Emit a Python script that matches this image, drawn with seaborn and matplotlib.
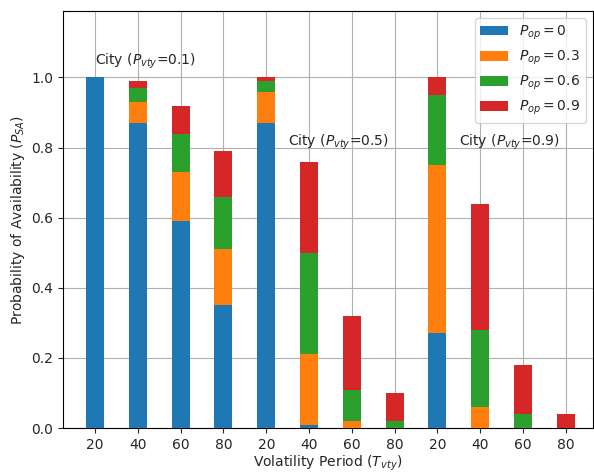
import matplotlib
matplotlib.use("Agg")
import matplotlib.pyplot as plt
import seaborn as sns
import pandas as pd

# Volatility periods for the three city scenarios (P_vty = 0.1, 0.5, 0.9)
periods = ["20", "40", "60", "80", "20", "40", "60", "80", "20", "40", "60", "80"]
scenario_labels = ["City ($P_{vty}$=0.1)", "City ($P_{vty}$=0.5)", "City ($P_{vty}$=0.9)"]

# Probability of availability for each operator probability P_op
p_op_0 = [1.00, 0.87, 0.59, 0.35, 0.87, 0.01, 0.00, 0.00, 0.27, 0.00, 0.00, 0.00]
p_op_03 = [1.00, 0.93, 0.73, 0.51, 0.96, 0.21, 0.02, 0.00, 0.75, 0.06, 0.00, 0.00]
p_op_06 = [1.00, 0.97, 0.84, 0.66, 0.99, 0.50, 0.11, 0.02, 0.95, 0.28, 0.04, 0.00]
p_op_09 = [1.00, 0.99, 0.92, 0.79, 1.00, 0.76, 0.32, 0.10, 1.00, 0.64, 0.18, 0.04]

series_names = ["$P_{op} = 0$", "$P_{op} = 0.3$", "$P_{op} = 0.6$", "$P_{op} = 0.9$"]
series_values = [p_op_0, p_op_03, p_op_06, p_op_09]
colors = ["#1f77b4", "#ff7f0e", "#2ca02c", "#d62728"]

rows = []
for name, vals in zip(series_names, series_values):
    for i, v in enumerate(vals):
        rows.append({"pos": i, "P_SA": v, "series": name})
df = pd.DataFrame(rows)

sns.set_style("white")
plt.rcParams["font.family"] = ["DejaVu Sans"]

fig = plt.figure(figsize=(5.94, 4.72), dpi=100)
ax = fig.add_axes([0.106, 0.093, 0.892, 0.884])

# Highest availability drawn first so lower series sit in front
palette = dict(zip(series_names, colors))
sns.barplot(data=df, x="pos", y="P_SA", hue="series",
            hue_order=series_names[::-1], palette=palette,
            dodge=False, width=0.42, saturation=1, linewidth=0,
            ax=ax, zorder=3)

ax.set_axisbelow(True)
ax.grid(True, color="#b0b0b0", linewidth=0.8)
ax.xaxis.grid(True)
ax.set_xlim(-0.75, 11.63)
ax.set_ylim(0, 1.19)
ax.set_xticks(range(len(periods)))
ax.set_xticklabels(periods)
ax.set_yticks([0.0, 0.2, 0.4, 0.6, 0.8, 1.0])
ax.set_yticklabels(["0.0", "0.2", "0.4", "0.6", "0.8", "1.0"])
ax.tick_params(axis="both", direction="out", length=3.5, width=0.8, labelsize=10,
               bottom=True, left=True)
for s in ax.spines.values():
    s.set_visible(True)
    s.set_color("black")
    s.set_linewidth(0.8)

ax.set_xlabel("Volatility Period ($T_{vty}$)", fontsize=10, labelpad=1.5)
ax.set_ylabel("Probability of Availability ($P_{SA}$)", fontsize=10, labelpad=3)

ax.text(0, 1.045, scenario_labels[0], ha="left", va="center", fontsize=10)
ax.text(4.5, 0.815, scenario_labels[1], ha="left", va="center", fontsize=10)
ax.text(8.5, 0.815, scenario_labels[2], ha="left", va="center", fontsize=10)

handles, labels = ax.get_legend_handles_labels()
order = [labels.index(n) for n in series_names]
ax.legend([handles[i] for i in order], [labels[i] for i in order],
          loc="upper right", fontsize=10, frameon=True)

fig.savefig("out.png", dpi=100)
